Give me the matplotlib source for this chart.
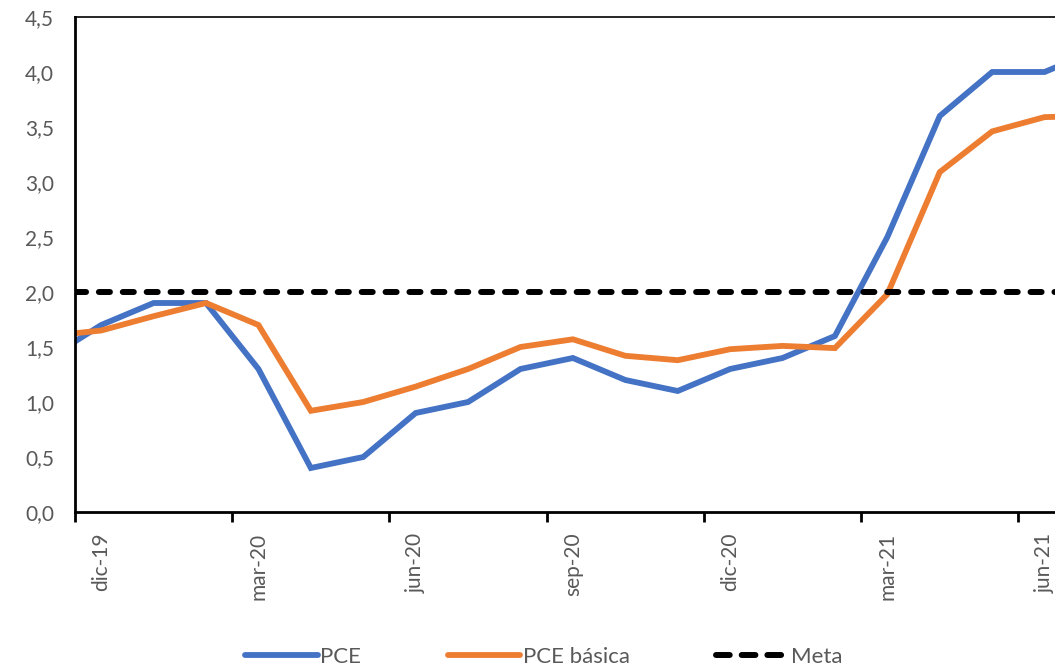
import numpy as np
import matplotlib.pyplot as plt
from matplotlib.lines import Line2D

# meses: nov-19 .. jul-21 (nov-19 y jul-21 quedan recortados por los bordes)
meses = ["nov-19", "dic-19", "ene-20", "feb-20", "mar-20", "abr-20", "may-20",
         "jun-20", "jul-20", "ago-20", "sep-20", "oct-20", "nov-20", "dic-20",
         "ene-21", "feb-21", "mar-21", "abr-21", "may-21", "jun-21", "jul-21"]
pce = [1.4, 1.7, 1.9, 1.9, 1.3, 0.4, 0.5, 0.9, 1.0, 1.3, 1.4, 1.2, 1.1, 1.3,
       1.4, 1.6, 2.5, 3.6, 4.0, 4.0, 4.2]
pce_basica = [1.6, 1.65, 1.78, 1.9, 1.7, 0.92, 1.0, 1.14, 1.3, 1.5, 1.57, 1.42,
              1.38, 1.48, 1.51, 1.49, 1.98, 3.09, 3.46, 3.59, 3.6]
meta = 2.0
etiquetas = ["dic-19", "mar-20", "jun-20", "sep-20", "dic-20", "mar-21", "jun-21"]

gris = "#595959"
plt.rcParams['font.family'] = ['Lato', 'DejaVu Sans']

x = np.arange(len(meses)) - 1  # dic-19 = 0

fig = plt.figure(figsize=(10.55, 6.67), dpi=100)
# el eje sigue mas alla del borde derecho de la figura
ax = fig.add_axes([75 / 1055, 155 / 667, 1022 / 1055, 495 / 667])

ax.plot(x, pce, color="#4472C4", lw=4.2, solid_joinstyle="miter", label="PCE")
ax.plot(x, pce_basica, color="#ED7D31", lw=4.2, solid_joinstyle="miter", label="PCE básica")
ax.axhline(meta, color="black", lw=4.3, dashes=(1.85, 2.15), dash_capstyle="round")

ax.set_xlim(-0.5, 19.0)
ax.set_ylim(0, 4.5)
ax.set_yticks(np.arange(0, 4.51, 0.5))
ax.set_yticklabels([f"{v:.1f}".replace(".", ",") for v in np.arange(0, 4.51, 0.5)])

pos_lab = [meses.index(m) - 1 for m in etiquetas]
ax.set_xticks([p - 0.5 for p in pos_lab])
ax.set_xticklabels([])
ax.set_xticks(pos_lab, minor=True)
ax.set_xticklabels(etiquetas, minor=True, rotation=90)

ax.tick_params(axis="x", which="major", length=7, width=2, color="black", direction="out")
ax.tick_params(axis="x", which="minor", length=0, pad=15, labelsize=15, labelcolor=gris)
ax.tick_params(axis="y", length=0, pad=15, labelsize=15, labelcolor=gris)

ax.spines["right"].set_visible(False)
ax.spines["left"].set_linewidth(2)
ax.spines["bottom"].set_linewidth(2)
ax.spines["top"].set_linewidth(1.2)
for s in ax.spines.values():
    s.set_color("black")

handles = [
    Line2D([], [], color="#4472C4", lw=4.2, solid_capstyle="round"),
    Line2D([], [], color="#ED7D31", lw=4.2, solid_capstyle="round"),
    Line2D([], [], color="black", lw=4.3, dashes=(2.3, 2.0), dash_capstyle="round"),
]
fig.legend(handles, ["PCE", "PCE básica", "Meta"], loc="center", ncol=3,
           bbox_to_anchor=(544 / 1055, 1 - 657 / 667), frameon=False,
           fontsize=16, labelcolor=gris, handlelength=3.25, handletextpad=0.12,
           columnspacing=3.9)

fig.savefig("out.png", dpi=100)
